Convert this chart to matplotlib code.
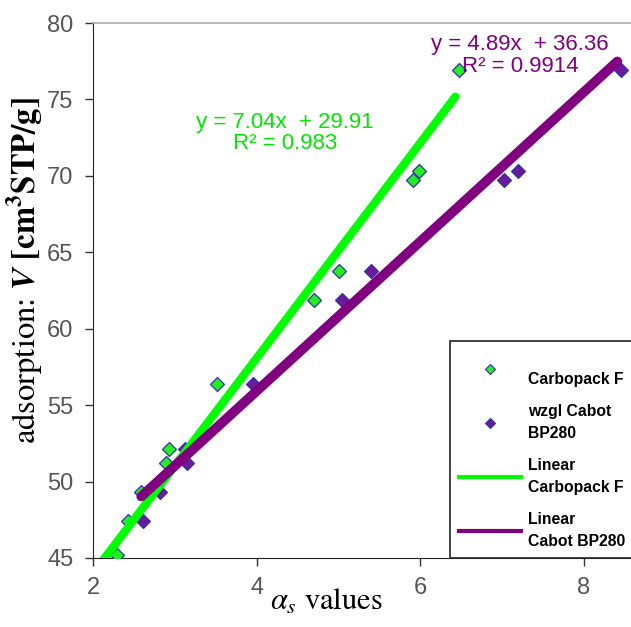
import matplotlib
matplotlib.use("Agg")
import matplotlib.pyplot as plt
from matplotlib.lines import Line2D

# ---- data ----
carbo_x = [2.29, 2.43, 2.59, 2.89, 2.93, 3.52, 4.70, 5.01, 5.91, 5.99, 6.48]
carbo_y = [45.2, 47.4, 49.3, 51.2, 52.1, 56.4, 61.9, 63.8, 69.7, 70.3, 76.9]
cabot_x = [2.61, 2.82, 3.15, 3.13, 3.95, 5.04, 5.40, 7.02, 7.20, 8.45]
cabot_y = [47.4, 49.3, 51.2, 52.1, 56.4, 61.9, 63.8, 69.7, 70.3, 76.9]
fit_carbo = [7.04, 29.91]   # slope, intercept
fit_cabot = [4.89, 36.36]
fit_carbo_range = [2.10, 6.43]
fit_cabot_range = [2.59, 8.41]
r2_carbo = 0.983
r2_cabot = 0.9914
xticks = [2, 4, 6, 8]
yticks = [45, 50, 55, 60, 65, 70, 75, 80]

plt.rcParams['mathtext.fontset'] = 'stix'

W, H = 631, 627
AX_L, AX_T, AX_B = 93, 23, 558
PX_PER_X = 81.8
fig = plt.figure(figsize=(W / 100, H / 100), dpi=100)
ax = fig.add_axes([AX_L / W, 1 - AX_B / H, (W - AX_L) / W, (AX_B - AX_T) / H])

green_txt = '#00e600'
green_line = '#00ff00'
purple = '#800080'
edge = '#3333aa'

ax.plot(carbo_x, carbo_y, linestyle='none', marker='D', ms=7, mfc='#22ee22',
        mec=edge, mew=0.9, zorder=3)
ax.plot(cabot_x, cabot_y, linestyle='none', marker='D', ms=7, mfc='#6a1b9a',
        mec=edge, mew=0.9, zorder=3)

ax.plot(fit_carbo_range, [fit_carbo[0] * v + fit_carbo[1] for v in fit_carbo_range],
        color=green_line, lw=6, solid_capstyle='round', zorder=4)
ax.plot(fit_cabot_range, [fit_cabot[0] * v + fit_cabot[1] for v in fit_cabot_range],
        color=purple, lw=7, solid_capstyle='round', zorder=5)

ax.set_xlim(2, 2 + (W - AX_L) / PX_PER_X)
ax.set_ylim(45, 80)
ax.set_xticks(xticks)
ax.set_yticks(yticks)
ax.tick_params(labelsize=17, colors='#333333', direction='out', length=6,
               width=1, labelcolor='#555555', pad=8)
for t in ax.get_xticklabels() + ax.get_yticklabels():
    t.set_fontfamily('Liberation Sans')
ax.spines['right'].set_visible(False)
ax.spines['top'].set_color('#aaaaaa')
ax.spines['top'].set_linewidth(1.2)
ax.spines['left'].set_color('#222222')
ax.spines['bottom'].set_color('#222222')

def dx(px):
    return 2 + (px - AX_L) / PX_PER_X

ax.text(dx(285), 72.8,
        f"y = {fit_carbo[0]:.2f}x  + {fit_carbo[1]:.2f}\nR² = {r2_carbo}",
        color=green_txt, fontsize=16, family='Liberation Sans', ha='center',
        va='center', multialignment='center', linespacing=1.0, zorder=6)
ax.text(dx(520), 77.85,
        f"y = {fit_cabot[0]:.2f}x  + {fit_cabot[1]:.2f}\nR² = {r2_cabot}",
        color=purple, fontsize=16, family='Liberation Sans', ha='center',
        va='center', multialignment='center', linespacing=1.05, zorder=6)

ax.set_ylabel(r"adsorption: $\boldsymbol{V}$ $\mathbf{[cm^3STP/g]}$",
              fontsize=23.5, family='STIXGeneral')
ax.yaxis.set_label_coords(-0.089, 0.538)
ax.set_xlabel(r"$\alpha_s$ values", fontsize=22, family='STIXGeneral', va='top')
ax.xaxis.set_label_coords((326 - AX_L) / (W - AX_L), -0.056)

handles = [
    Line2D([], [], linestyle='none', marker='D', ms=5, mfc='#22ee22', mec=edge, mew=0.8),
    Line2D([], [], linestyle='none', marker='D', ms=5, mfc='#6a1b9a', mec=edge, mew=0.8),
    Line2D([], [], color=green_line, lw=3),
    Line2D([], [], color=purple, lw=3),
]
labels = ["\nCarbopack F", "wzgl Cabot\nBP280", "Linear\nCarbopack F", "Linear\nCabot BP280"]
leg = ax.legend(handles, labels, loc='lower left',
                bbox_to_anchor=((450 - AX_L) / (W - AX_L), 0.0),
                prop={'family': 'Liberation Sans', 'weight': 'bold', 'size': 11.3},
                frameon=True, fancybox=False, edgecolor='#222222',
                handlelength=3.9, handletextpad=0.45, borderpad=0.6,
                labelspacing=1.1, borderaxespad=0)
leg.get_frame().set_linewidth(1.2)
leg.get_frame().set_alpha(1)
for t in leg.get_texts():
    t.set_linespacing(1.55)
leg.set_zorder(10)

fig.savefig("out.png", dpi=100)
